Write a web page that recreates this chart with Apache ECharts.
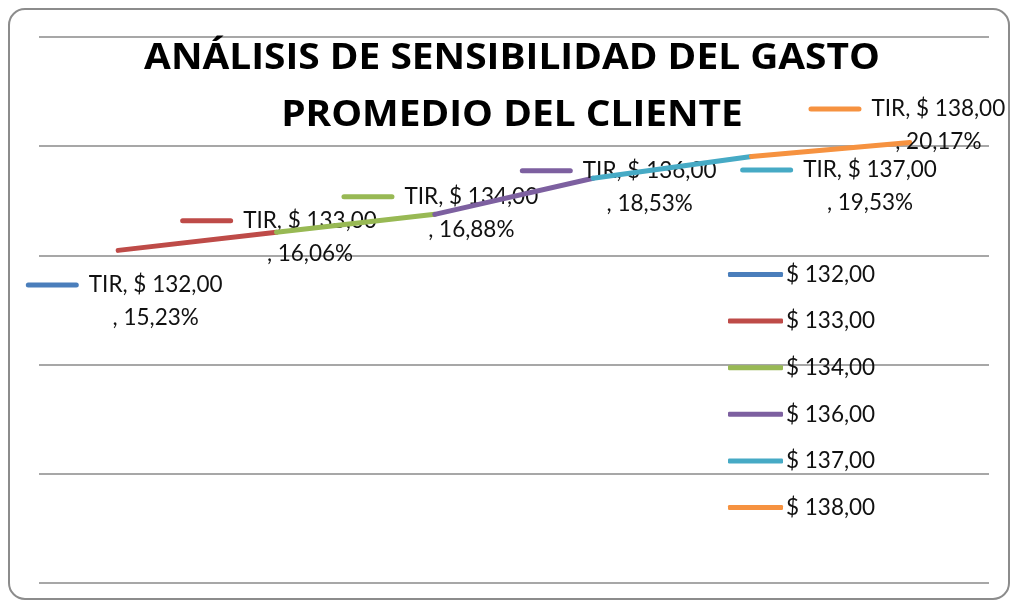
<!DOCTYPE html>
<html>
<head>
<meta charset="utf-8">
<script src="https://cdn.jsdelivr.net/npm/echarts@6/dist/echarts.min.js"></script>
<style>
  html, body { margin: 0; padding: 0; background: #fff; }
  #chart { width: 1017px; height: 608px; }
</style>
</head>
<body>
<div id="chart"></div>
<script>
// Gasto promedio del cliente (categorías) y TIR resultante (%)
const categories = ['$ 132,00', '$ 133,00', '$ 134,00', '$ 136,00', '$ 137,00', '$ 138,00'];
const tirValues = [15.23, 16.06, 16.88, 18.53, 19.53, 20.17];
const tirLabels = ['15,23%', '16,06%', '16,88%', '18,53%', '19,53%', '20,17%'];
const seriesName = 'TIR';
const yTicks = [0, 5, 10, 15, 20, 25];

const colors = ['#4A7EBB', '#BE4B48', '#98B954', '#7D60A0', '#46AAC5', '#F69240'];
// where each data label sits relative to its point
const labelOffsets = [[6, 51], [2, 5], [5, -1], [25, 9], [87, 30], [-3, -17]];

const FONT = 'Lato, "Open Sans", sans-serif';
const TITLE_FONT = '"Open Sans", Lato, sans-serif';

const series = categories.map((cat, k) => {
  const data = categories.map(() => null);
  if (k > 0) data[k - 1] = tirValues[k - 1];
  data[k] = {
    value: tirValues[k],
    label: {
      show: true,
      position: 'inside',
      offset: labelOffsets[k],
      formatter: '{k|}{g|}{t|' + seriesName + ', ' + cat + '}\n{p|}{t|, ' + tirLabels[k] + '}',
      rich: {
        k: { width: 53, height: 5, backgroundColor: colors[k], borderRadius: 2.5 },
        g: { width: 10 },
        p: { width: 63 },
        t: { fontFamily: FONT, fontSize: 22.5, color: '#111', lineHeight: 33 }
      }
    }
  };
  return {
    name: cat,
    type: 'line',
    data: data,
    connectNulls: false,
    symbol: 'circle',
    symbolSize: 1,
    showSymbol: true,
    itemStyle: { color: colors[k] },
    lineStyle: { color: colors[k], width: 5, cap: 'round' },
    emphasis: { disabled: true },
    z: 2 + k
  };
});

const chart = echarts.init(document.getElementById('chart'), null, { renderer: 'canvas' });
chart.setOption({
  animation: false,
  backgroundColor: '#fff',
  grid: { left: 39, right: 28, top: 37, bottom: 25 },
  xAxis: {
    type: 'category',
    data: categories,
    boundaryGap: true,
    axisLine: { show: false },
    axisTick: { show: false },
    axisLabel: { show: false },
    splitLine: { show: false }
  },
  yAxis: {
    type: 'value',
    min: yTicks[0],
    max: yTicks[yTicks.length - 1],
    interval: 5,
    axisLine: { show: false },
    axisTick: { show: false },
    axisLabel: { show: false },
    splitLine: { lineStyle: { color: '#8A8A8A', width: 1.5 } }
  },
  legend: {
    orient: 'vertical',
    left: 728,
    top: 263,
    padding: 0,
    itemWidth: 55,
    itemHeight: 5,
    itemGap: 23.6,
    icon: 'roundRect',
    data: categories,
    textStyle: { fontFamily: FONT, fontSize: 22.5, color: '#111', lineHeight: 22, padding: [0, 0, 0, -2] }
  },
  graphic: [
    {
      type: 'rect',
      shape: { x: 9, y: 9, width: 1000, height: 590, r: 16 },
      style: { fill: 'none', stroke: '#8C8C8C', lineWidth: 2 },
      z: 0
    },
    {
      type: 'text',
      x: 512,
      y: 31,
      scaleX: 1.11,
      style: {
        text: 'ANÁLISIS DE SENSIBILIDAD DEL GASTO\nPROMEDIO DEL CLIENTE',
        font: 'bold 35px ' + TITLE_FONT,
        fill: '#000',
        textAlign: 'center',
        textVerticalAlign: 'top',
        lineHeight: 57
      },
      z: 10
    }
  ],
  series: series
});
</script>
</body>
</html>
